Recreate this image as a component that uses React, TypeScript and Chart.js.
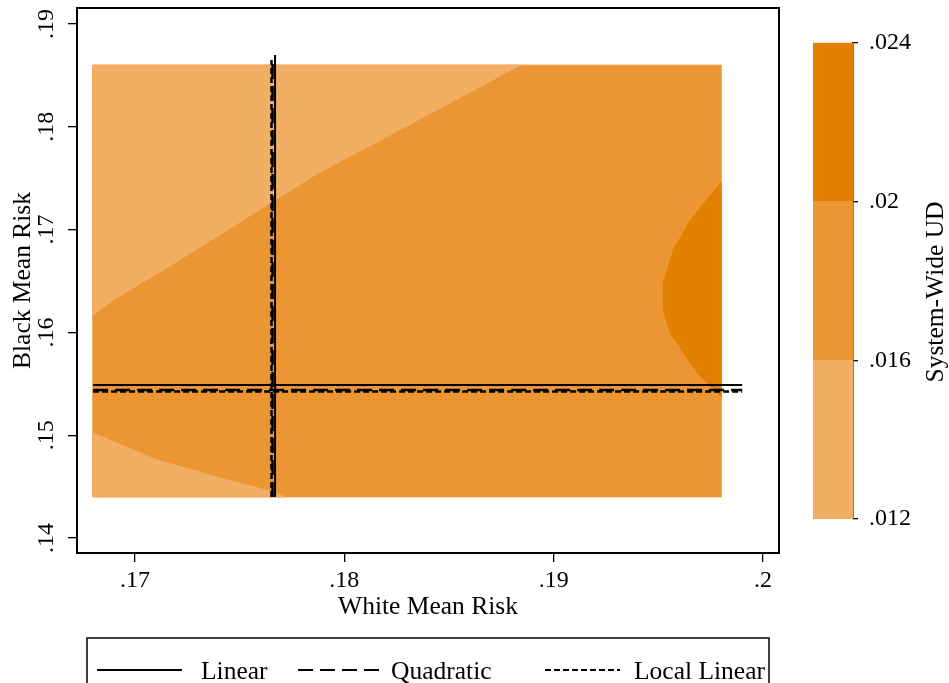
import React, { useEffect, useRef } from 'react';
import { Chart, registerables } from 'chart.js';

Chart.register(...registerables);

const FONT = "'Liberation Serif', 'Times New Roman', serif";

// ---------- axes ----------
const xMin = 0.16723;
const xMax = 0.20076;
const yMin = 0.13854;
const yMax = 0.19156;
const xTickValues = [0.17, 0.18, 0.19, 0.2];
const xTickLabels = ['.17', '.18', '.19', '.2'];
const yTickValues = [0.14, 0.15, 0.16, 0.17, 0.18, 0.19];
const yTickLabels = ['.14', '.15', '.16', '.17', '.18', '.19'];
const xTitle = 'White Mean Risk';
const yTitle = 'Black Mean Risk';

// ---------- contour levels ----------
const levelBreaks = [0.012, 0.016, 0.02, 0.024];
const levelLabels = ['.012', '.016', '.02', '.024'];
const levelColors = ['#F2AE62', '#EB9632', '#E48000'];
const colorbarTitle = 'System-Wide UD';

// ---------- contour regions (White risk x, Black risk y) ----------
const gridX = [0.168, 0.198, 0.198, 0.168, 0.168];
const gridY = [0.144, 0.144, 0.186, 0.186, 0.144];
const lowUpperX = [0.168, 0.168, 0.16895, 0.1712, 0.17397, 0.17669, 0.17884, 0.18362, 0.1884, 0.168];
const lowUpperY = [0.186, 0.16169, 0.16315, 0.16588, 0.16938, 0.17288, 0.1756, 0.18076, 0.186, 0.186];
const lowLowerX = [0.168, 0.168, 0.17105, 0.17392, 0.1766, 0.17717, 0.168];
const lowLowerY = [0.144, 0.15021, 0.14759, 0.14593, 0.14447, 0.144, 0.144];
const highX = [0.198, 0.19653, 0.19572, 0.19524, 0.19524, 0.19557, 0.19686, 0.19758, 0.198, 0.198];
const highY = [0.17463, 0.17093, 0.16802, 0.1649, 0.16218, 0.15994, 0.15605, 0.15459, 0.15372, 0.17463];

// ---------- fitted thresholds ----------
const fitLabels = ['Linear', 'Quadratic', 'Local Linear'];
const fitWhite = [0.17669, 0.17657, 0.17652];
const fitWhiteTop = [0.18698, 0.1865, 0.1865];
const fitWhiteBottom = [0.144, 0.144, 0.144];
const fitBlack = [0.15488, 0.1544, 0.15426];
const fitBlackLeft = [0.168, 0.168, 0.168];
const fitBlackRight = [0.199, 0.199, 0.199];

const fitDash = [[], [15, 7], [6, 3]];
const fitWidth = [2, 2.5, 2.5];

const zip = (xs: number[], ys: number[]) => xs.map((x, i) => ({ x, y: ys[i] }));

const polyDs = (label: string, xs: number[], ys: number[], color: string, order: number) => ({
  type: 'line',
  label,
  data: zip(xs, ys),
  backgroundColor: color,
  borderColor: color,
  borderWidth: 1,
  fill: 'shape',
  pointRadius: 0,
  tension: 0,
  order,
});

const lineDs = (i: number, pts: { x: number; y: number }[]) => ({
  type: 'line',
  label: fitLabels[i],
  data: pts,
  borderColor: '#000',
  borderWidth: fitWidth[i],
  borderDash: fitDash[i],
  fill: false,
  pointRadius: 0,
  tension: 0,
  order: i,
});

const TITLE_SIZE = 25.5;

const mainDecor = {
  id: 'mainDecor',
  afterDraw(chart: any) {
    const { ctx, chartArea: a, scales } = chart;
    const y = scales.y;
    ctx.save();
    ctx.strokeStyle = '#000';
    ctx.lineWidth = 2;
    ctx.setLineDash([]);
    ctx.strokeRect(a.left, a.top, a.right - a.left, a.bottom - a.top);

    ctx.font = `24px ${FONT}`;
    ctx.fillStyle = '#000';
    ctx.textAlign = 'center';
    ctx.textBaseline = 'alphabetic';
    yTickValues.forEach((v, i) => {
      const py = y.getPixelForValue(v);
      ctx.save();
      ctx.translate(a.left - 24, py);
      ctx.rotate(-Math.PI / 2);
      ctx.fillText(yTickLabels[i], 0, 0);
      ctx.restore();
    });

    // legend
    ctx.lineWidth = 1.5;
    ctx.strokeRect(87, 638, 769 - 87, 70);
    ctx.font = `${TITLE_SIZE}px ${FONT}`;
    const entries = [
      { x0: 97, x1: 182, tx: 201 },
      { x0: 298, x1: 383, tx: 391 },
      { x0: 545, x1: 620, tx: 634 },
    ];
    entries.forEach((e, i) => {
      ctx.beginPath();
      ctx.setLineDash(fitDash[i]);
      ctx.lineWidth = 2;
      ctx.moveTo(e.x0, 670);
      ctx.lineTo(e.x1, 670);
      ctx.stroke();
      ctx.setLineDash([]);
      ctx.textAlign = 'left';
      ctx.fillText(fitLabels[i], e.tx, 679);
    });
    ctx.restore();
  },
};

const cbDecor = {
  id: 'cbDecor',
  afterDraw(chart: any) {
    const { ctx } = chart;
    ctx.save();
    ctx.font = `${TITLE_SIZE}px ${FONT}`;
    ctx.fillStyle = '#000';
    ctx.textAlign = 'center';
    ctx.textBaseline = 'alphabetic';
    ctx.translate(153, 292);
    ctx.rotate(-Math.PI / 2);
    ctx.fillText(colorbarTitle, 0, 0);
    ctx.restore();
  },
};

export default function App() {
  const mainRef = useRef<HTMLCanvasElement>(null);
  const cbRef = useRef<HTMLCanvasElement>(null);

  useEffect(() => {
    const datasets: any[] = [];
    for (let i = 0; i < fitLabels.length; i++) {
      datasets.push(lineDs(i, [
        { x: fitWhite[i], y: fitWhiteBottom[i] },
        { x: fitWhite[i], y: fitWhiteTop[i] },
      ]));
      datasets.push(lineDs(i, [
        { x: fitBlackLeft[i], y: fitBlack[i] },
        { x: fitBlackRight[i], y: fitBlack[i] },
      ]));
    }
    datasets.push(polyDs('high', highX, highY, levelColors[2], 5));
    datasets.push(polyDs('lowUpper', lowUpperX, lowUpperY, levelColors[0], 5));
    datasets.push(polyDs('lowLower', lowLowerX, lowLowerY, levelColors[0], 5));
    datasets.push(polyDs('mid', gridX, gridY, levelColors[1], 10));

    const tickFont = { family: FONT, size: 24 };
    const titleFont = { family: FONT, size: TITLE_SIZE };
    const main = new Chart(mainRef.current as HTMLCanvasElement, {
      type: 'line',
      data: { datasets },
      plugins: [mainDecor],
      options: {
        animation: false,
        responsive: false,
        layout: { padding: { top: 8, right: 170, left: 0, bottom: 0 } },
        plugins: { legend: { display: false }, tooltip: { enabled: false } },
        scales: {
          x: {
            type: 'linear',
            min: xMin,
            max: xMax,
            afterBuildTicks: (s: any) => { s.ticks = xTickValues.map((v) => ({ value: v })); },
            afterFit: (s: any) => { s.height = 130; },
            ticks: {
              callback: (_v: any, i: number) => xTickLabels[i],
              color: '#000', font: tickFont, padding: 4, maxRotation: 0, autoSkip: false,
            },
            grid: { drawOnChartArea: false, drawTicks: true, tickLength: 9, color: '#000', lineWidth: 1.3 },
            border: { display: true, color: '#000', width: 2 },
            title: { display: true, text: xTitle, color: '#000', font: titleFont, padding: { top: 0, bottom: 60.7 } },
          },
          y: {
            type: 'linear',
            min: yMin,
            max: yMax,
            afterBuildTicks: (s: any) => { s.ticks = yTickValues.map((v) => ({ value: v })); },
            afterFit: (s: any) => { s.width = 77; },
            ticks: { callback: () => '', autoSkip: false, font: { family: FONT, size: 1 }, padding: 0 },
            grid: { drawOnChartArea: false, drawTicks: true, tickLength: 9, color: '#000', lineWidth: 1.3 },
            border: { display: true, color: '#000', width: 2 },
            title: { display: true, text: yTitle, color: '#000', font: titleFont, padding: { top: 8.2, bottom: 0 } },
          },
        },
      } as any,
    } as any);

    const cb = new Chart(cbRef.current as HTMLCanvasElement, {
      type: 'bar',
      data: {
        labels: [''],
        datasets: levelColors.map((c, i) => ({
          label: levelLabels[i],
          data: [[levelBreaks[i], levelBreaks[i + 1]]],
          backgroundColor: c,
          borderWidth: 0,
          barPercentage: 1,
          categoryPercentage: 1,
          grouped: false,
        })),
      },
      plugins: [cbDecor],
      options: {
        animation: false,
        responsive: false,
        layout: { padding: { left: 23, top: 42.7, bottom: 41, right: 0 } },
        plugins: { legend: { display: false }, tooltip: { enabled: false } },
        scales: {
          x: { display: false },
          y: {
            position: 'right',
            min: levelBreaks[0],
            max: levelBreaks[levelBreaks.length - 1],
            afterBuildTicks: (s: any) => { s.ticks = levelBreaks.map((v) => ({ value: v })); },
            afterFit: (s: any) => { s.width = 96; },
            ticks: {
              callback: (_v: any, i: number) => levelLabels[i],
              color: '#000', font: tickFont, padding: 11, autoSkip: false,
            },
            grid: { drawOnChartArea: false, drawTicks: true, tickLength: 5, color: '#000', lineWidth: 1.3 },
            border: { display: true, color: '#000', width: 1.5 },
          },
        },
      } as any,
    } as any);

    return () => {
      main.destroy();
      cb.destroy();
    };
  }, []);

  return (
    <div style={{ position: 'fixed', left: 0, top: 0, width: 949, height: 683, background: '#fff' }}>
      <canvas ref={mainRef} width={949} height={683} style={{ position: 'absolute', left: 0, top: 0 }} />
      <canvas ref={cbRef} width={159} height={560} style={{ position: 'absolute', left: 790, top: 0 }} />
    </div>
  );
}
